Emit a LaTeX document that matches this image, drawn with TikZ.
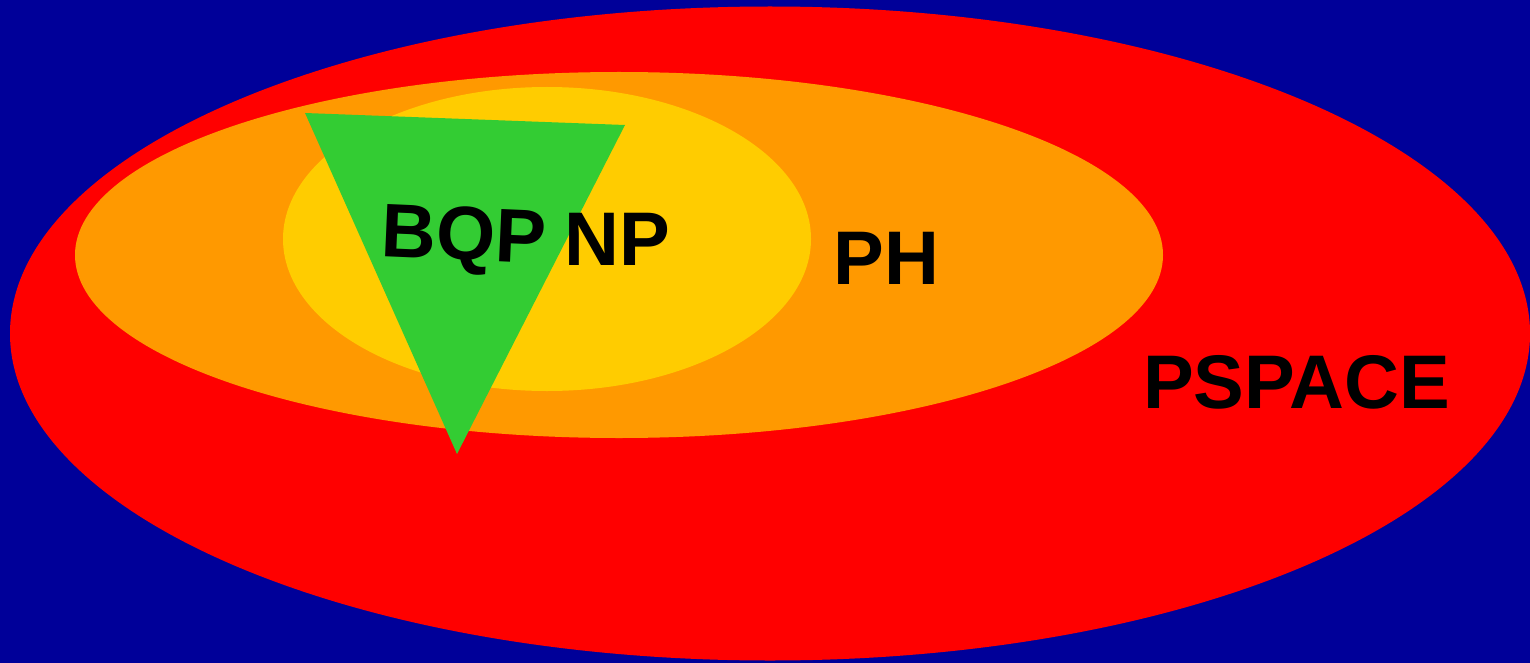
\documentclass[tikz,border=0pt]{standalone}
\usepackage{fontspec}
\setmainfont{Liberation Sans}
\definecolor{bgblue}{HTML}{000099}
\definecolor{pspred}{HTML}{FF0000}
\definecolor{phorange}{HTML}{FF9900}
\definecolor{npyellow}{HTML}{FFCC00}
\definecolor{bqpgreen}{HTML}{33CC33}
\tikzset{
  lbl/.style={font=\fontsize{76}{80}\selectfont\bfseries, text=black, inner sep=0pt, anchor=base}
}
\begin{document}
\begin{tikzpicture}[x=1pt,y=-1pt]
\fill[bgblue] (0,0) rectangle (1530,663);
\useasboundingbox (0,0) rectangle (1530,663);
\fill[pspred] (770,333.5) ellipse [x radius=760, y radius=327];
\fill[phorange] (619,255) ellipse [x radius=544, y radius=183];
\fill[npyellow] (547,239) ellipse [x radius=264, y radius=152];
\fill[bqpgreen] (305,113) -- (625,125) -- (457,454) -- cycle;
\node[lbl, rotate=-2.5] (bqp) at (463,260) {BQP};
\node[lbl] (np) at (617,265) {NP};
\node[lbl] (ph) at (886.5,284) {PH};
\node[lbl] (pspace) at (1296.5,408) {PSPACE};
\end{tikzpicture}
\end{document}
